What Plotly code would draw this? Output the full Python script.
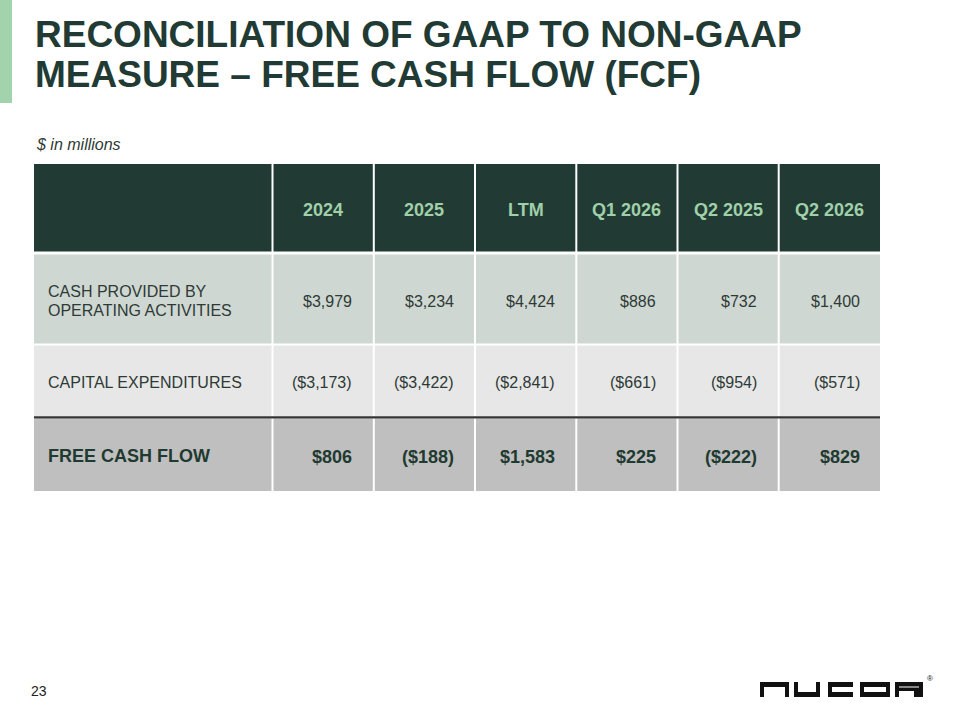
import plotly.graph_objects as go

# ---------------- data ----------------
title_lines = ["RECONCILIATION OF GAAP TO NON-GAAP", "MEASURE \u2013 FREE CASH FLOW (FCF)"]
subtitle = "$ in millions"
periods = ["2024", "2025", "LTM", "Q1 2026", "Q2 2025", "Q2 2026"]
row_labels = ["CASH PROVIDED BY<br>OPERATING ACTIVITIES", "CAPITAL EXPENDITURES", "FREE CASH FLOW"]
cash_from_operations = [3979, 3234, 4424, 886, 732, 1400]
capital_expenditures = [-3173, -3422, -2841, -661, -954, -571]
free_cash_flow = [806, -188, 1583, 225, -222, 829]
page_number = "23"
brand = "NUCOR"

rows = [cash_from_operations, capital_expenditures, free_cash_flow]

# ---------------- style / layout ----------------
FONT = "Liberation Sans, Arial, sans-serif"
TITLE_COLOR = "#213B34"
HEADER_BG = "#213B34"
HEADER_TXT = "#A0D0A9"
ROW_BG = ["#CFD7D2", "#E7E7E7", "#BFBFBF"]
ROW_TXT = ["#2E3A35", "#2E3A35", "#1F3A31"]
ROW_BOLD = [False, False, True]
ROW_SIZE = [16, 16, 18]
ACCENT = "#A3D3AD"

col_edges = [34, 272.5, 373.8, 475.0, 576.3, 677.5, 778.7, 880]
header_y = (164, 251.5)
row_y = [(254.5, 343.5), (345.5, 416.2), (418.6, 491)]
separator_y = 417.4


def fmt(v):
    s = "${:,}".format(abs(v))
    return "({})".format(s) if v < 0 else s


fig = go.Figure()
fig.add_trace(go.Scatter(x=[None], y=[None], showlegend=False, hoverinfo="skip"))

shapes = []
ann = []

# accent bar
shapes.append(dict(type="rect", x0=0, x1=12, y0=0, y1=103, fillcolor=ACCENT, line_width=0))

# title
for i, t in enumerate(title_lines):
    ann.append(dict(x=33, y=34 + 40 * i, text="<b>%s</b>" % t, xanchor="left", yanchor="middle",
                    showarrow=False, font=dict(family=FONT, size=37, color=TITLE_COLOR)))

ann.append(dict(x=34, y=144, text="<i>%s</i>" % subtitle, xanchor="left", yanchor="middle",
                showarrow=False, font=dict(family=FONT, size=16, color="#2E3A35")))

ncols = len(col_edges) - 1


def cell_x(i):
    x0 = col_edges[i] + (1 if i > 0 else 0)
    x1 = col_edges[i + 1] - (1 if i < ncols - 1 else 0)
    return x0, x1


# header
for i in range(ncols):
    x0, x1 = cell_x(i)
    shapes.append(dict(type="rect", x0=x0, x1=x1, y0=header_y[0], y1=header_y[1],
                       fillcolor=HEADER_BG, line_width=0))
for j, p in enumerate(periods):
    x0, x1 = cell_x(j + 1)
    ann.append(dict(x=(x0 + x1) / 2, y=(header_y[0] + header_y[1]) / 2 + 2, text="<b>%s</b>" % p,
                    xanchor="center", yanchor="middle", showarrow=False,
                    font=dict(family=FONT, size=18, color=HEADER_TXT)))

# body rows
for r, (vals, label) in enumerate(zip(rows, row_labels)):
    y0, y1 = row_y[r]
    yc = (y0 + y1) / 2 + 2
    for i in range(ncols):
        x0, x1 = cell_x(i)
        shapes.append(dict(type="rect", x0=x0, x1=x1, y0=y0, y1=y1, fillcolor=ROW_BG[r], line_width=0))
    lines = label.split("<br>")
    n = len(lines)
    for k, ln in enumerate(lines):
        txt = "<b>%s</b>" % ln if ROW_BOLD[r] else ln
        ann.append(dict(x=46, y=yc + (k - (n - 1) / 2) * 19 - 0.5, text=txt, xanchor="left", yanchor="middle",
                        showarrow=False, font=dict(family=FONT, size=ROW_SIZE[r], color=ROW_TXT[r])))
    for j, v in enumerate(vals):
        x0, x1 = cell_x(j + 1)
        txt = "<b>%s</b>" % fmt(v) if ROW_BOLD[r] else fmt(v)
        ann.append(dict(x=x1 - 18.5, y=yc, text=txt, xanchor="right", yanchor="middle", showarrow=False,
                        font=dict(family=FONT, size=ROW_SIZE[r], color=ROW_TXT[r])))

# dark separator above total row
shapes.append(dict(type="line", x0=34, x1=880, y0=separator_y, y1=separator_y,
                   line=dict(color="#333333", width=2.2)))

# page number
ann.append(dict(x=29, y=691, text=page_number, xanchor="left", yanchor="middle", showarrow=False,
                font=dict(family=FONT, size=14, color="#222222")))

# logo (block letters)
logo_rects = [
    # N
    (760, 764, 682, 697), (760, 789, 682, 687), (785, 789, 682, 697),
    # U
    (794, 798, 682, 697), (816, 820, 682, 697), (794, 820, 692, 697),
    # C
    (828, 832, 682, 697), (828, 853, 682, 687), (828, 853, 692, 697),
    # O
    (860, 864, 682, 697), (886, 890, 682, 697), (860, 890, 682, 687), (860, 890, 692, 697),
    # R
    (895, 899, 682, 697), (895, 923, 682, 686.5), (919, 923, 682, 691), (895, 923, 687.5, 691),
    (914, 923, 691, 697),
]
for (a, b, c, d) in logo_rects:
    shapes.append(dict(type="rect", x0=a, x1=b, y0=c, y1=d, fillcolor="#111111", line_width=0))
ann.append(dict(x=929.5, y=678, text="\u00ae", xanchor="center", yanchor="middle", showarrow=False,
                font=dict(family=FONT, size=8, color="#111111")))

fig.update_layout(
    width=960, height=720, margin=dict(l=0, r=0, t=0, b=0),
    paper_bgcolor="white", plot_bgcolor="white",
    xaxis=dict(range=[0, 960], visible=False, fixedrange=True),
    yaxis=dict(range=[720, 0], visible=False, fixedrange=True),
    shapes=shapes, annotations=ann, showlegend=False,
)

fig.write_html("out.html", config={"displayModeBar": False},
               post_script="document.body.style.margin='0px';document.body.style.overflow='hidden';")
